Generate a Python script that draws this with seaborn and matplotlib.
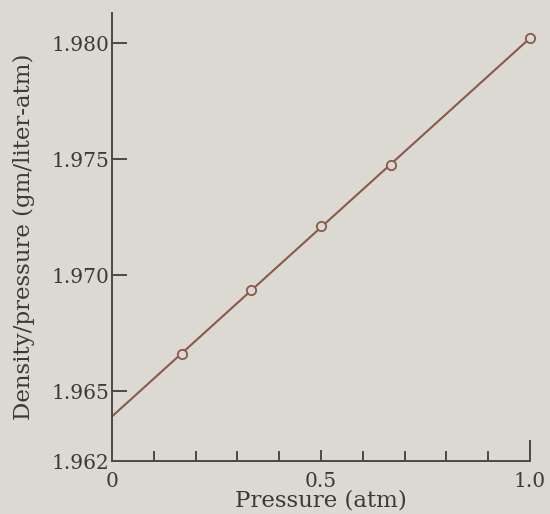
import seaborn as sns
import numpy as np
import matplotlib.pyplot as plt
from matplotlib.ticker import FixedLocator

# measured points
pressure = [1 / 6, 1 / 3, 0.5, 2 / 3, 1.0]
density_ratio = [1.96662, 1.96937, 1.97212, 1.97474, 1.98023]

# fitted line drawn through the points (ends)
line_p = [0.0, 1.0]
line_ratio = [1.96392, 1.98021]

y_ticks = [1.962, 1.965, 1.970, 1.975, 1.980]
y_labels = ["1.962", "1.965", "1.970", "1.975", "1.980"]
x_ticks = [0.0, 0.5, 1.0]
x_labels = ["0", "0.5", "1.0"]

bg = "#dbd9d1"
brown = "#8a5a4a"
axis_col = "#4a4a4a"
text_col = "#3a3a3a"

sns.set_style("ticks", {"axes.facecolor": bg, "figure.facecolor": bg,
                        "axes.edgecolor": axis_col})
plt.rcParams["font.family"] = ["DejaVu Serif"]

fig = plt.figure(figsize=(5.5, 5.14), dpi=100)
ax = fig.add_axes([0.2036, 0.103, 0.76, 0.872])

sns.lineplot(x=line_p, y=line_ratio, ax=ax, color=brown, linewidth=1.5)
sns.scatterplot(x=pressure, y=density_ratio, ax=ax, s=45, marker="o",
                facecolor=bg, edgecolor=brown, linewidth=1.3, zorder=3,
                clip_on=False)

ax.set_xlim(0, 1.0)
ax.set_ylim(1.962, 1.9813)
sns.despine(ax=ax)
for sp in ["left", "bottom"]:
    ax.spines[sp].set_linewidth(1.4)
    ax.spines[sp].set_color(axis_col)

ax.set_yticks(y_ticks)
ax.set_yticklabels(y_labels)
ax.set_xticks(x_ticks)
ax.set_xticklabels(x_labels)
ax.xaxis.set_minor_locator(FixedLocator(np.arange(0.1, 1.0, 0.1)))

ax.tick_params(axis="y", direction="in", length=11, width=1.4, color=axis_col,
               labelsize=14.5, labelcolor=text_col, pad=2)
ax.tick_params(axis="x", which="both", direction="in", width=1.4, color=axis_col,
               labelsize=14.5, labelcolor=text_col, pad=8)
ax.tick_params(axis="x", which="major", length=8)
ax.tick_params(axis="x", which="minor", length=7)
ax.yaxis.get_major_ticks()[0].tick1line.set_visible(False)
ax.xaxis.get_major_ticks()[0].tick1line.set_visible(False)
ax.xaxis.get_major_ticks()[2].tick1line.set_markersize(15)

ax.set_xlabel("Pressure (atm)", fontsize=16.5, color=text_col, labelpad=-1)
ax.set_ylabel("Density/pressure (gm/liter-atm)", fontsize=16.5,
              color=text_col, labelpad=12)

plt.savefig("out.png", dpi=100, facecolor=bg)
